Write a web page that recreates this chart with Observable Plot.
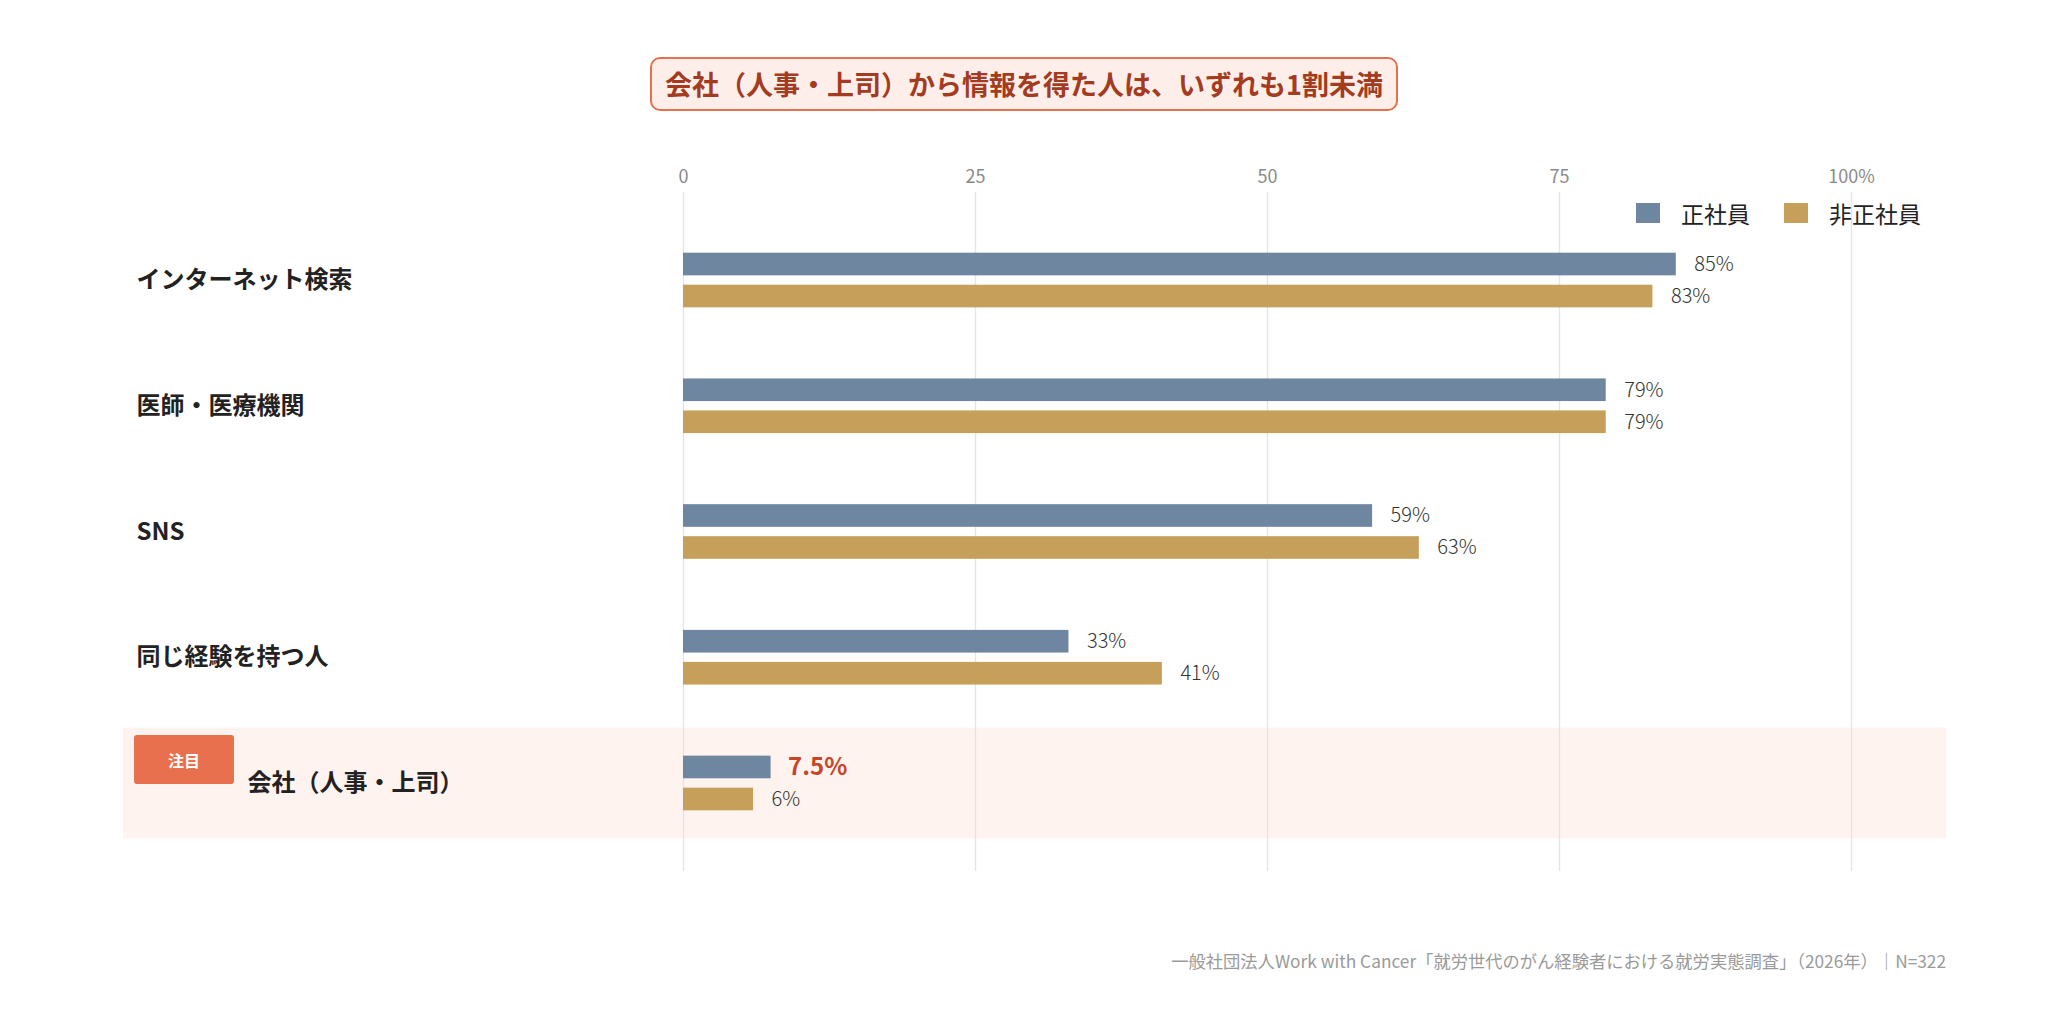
<!DOCTYPE html>
<html lang="ja">
<head>
<meta charset="utf-8">
<script src="https://cdn.jsdelivr.net/npm/d3@7"></script>
<script src="https://cdn.jsdelivr.net/npm/@observablehq/plot@0.6"></script>
<style>
  html, body { margin: 0; padding: 0; background: #ffffff; }
  body { font-family: "Noto Sans CJK JP", "Noto Sans", sans-serif; }
  #wrap { position: relative; width: 2048px; height: 1015px; overflow: hidden; }
  #chart { position: absolute; left: 0; top: 0; }
  #title { position: absolute; left: 0; right: 0; top: 57px; display: flex; justify-content: center; }
  #title span { display: inline-block; box-sizing: border-box; height: 54px; line-height: 50px; padding: 0 13px;
    border: 2px solid #e6714f; border-radius: 10px; background: #fdeeea; color: #a33b20;
    font-weight: 700; font-size: 27px; white-space: nowrap; }
  #legend { position: absolute; left: 1636px; top: 196px; display: flex; align-items: center; font-size: 23px; color: #222; }
  #legend .item { display: flex; align-items: center; margin-right: 34px; }
  #legend .sw { width: 24px; height: 20px; margin-right: 21px; }
  #badge { position: absolute; left: 134px; top: 735px; width: 100px; height: 49px; background: #e8704f; border-radius: 3px;
    color: #fff; font-weight: 700; font-size: 16px; display: flex; align-items: center; justify-content: center; }
  #footer { position: absolute; right: 102px; top: 948px; font-size: 17.3px; color: #9a9a9a; white-space: nowrap; }
</style>
</head>
<body>
<div id="wrap">
  <div id="chart"></div>
  <div id="title"></div>
  <div id="legend"></div>
  <div id="badge"></div>
  <div id="footer"></div>
</div>
<script>
// ---- data ----
const categories = ["インターネット検索", "医師・医療機関", "SNS", "同じ経験を持つ人", "会社（人事・上司）"];
const seriesNames = ["正社員", "非正社員"];
const seishain = [85, 79, 59, 33, 7.5];
const hiseishain = [83, 79, 63, 41, 6];
const xTicks = [0, 25, 50, 75, 100];
const xTickLabels = ["0", "25", "50", "75", "100%"];
const highlightCategory = "会社（人事・上司）";
const badgeText = "注目";
const titleText = "会社（人事・上司）から情報を得た人は、いずれも1割未満";
const footerText = "一般社団法人Work with Cancer「就労世代のがん経験者における就労実態調査」（2026年）｜N=322";
const seriesColors = ["#6f86a1", "#c6a05b"];

// ---- build rows ----
const rowsA = categories.map((c, i) => ({category: c, series: seriesNames[0], value: seishain[i]}));
const rowsB = categories.map((c, i) => ({category: c, series: seriesNames[1], value: hiseishain[i]}));
const xDomain = [xTicks[0], xTicks[xTicks.length - 1]];
const ticks = xTicks.map((t, i) => ({t, label: xTickLabels[i]}));
const FONT = "'Noto Sans CJK JP', 'Noto Sans', sans-serif";
const fmt = v => v + "%";
const isHL = d => d.category === highlightCategory;

const chart = Plot.plot({
  width: 2048,
  height: 1015,
  marginLeft: 683,
  marginRight: 197,
  marginTop: 192,
  marginBottom: 144,
  style: {background: "transparent", fontFamily: FONT, overflow: "visible"},
  x: {domain: xDomain, axis: null},
  y: {type: "band", domain: categories, paddingInner: 0.12, paddingOuter: 0.26, round: false, axis: null},
  marks: [
    // highlight band
    Plot.barX([highlightCategory], {y: d => d, x1: () => xDomain[0], x2: () => xDomain[1],
      insetLeft: -560, insetRight: -95, fill: "#fef3ef"}),
    // grid
    Plot.ruleX(xTicks, {stroke: "#e4e4e4", strokeWidth: 1.3}),
    // tick labels
    Plot.text(ticks, {x: "t", text: "label", frameAnchor: "top", dy: -22, fontSize: 18,
      fill: "#8a8a8a", fontFamily: FONT}),
    // bars
    Plot.barX(rowsA, {y: "category", x: "value", insetTop: 28, insetBottom: 60, fill: seriesColors[0]}),
    Plot.barX(rowsB, {y: "category", x: "value", insetTop: 60, insetBottom: 28, fill: seriesColors[1]}),
    // value labels
    Plot.text(rowsA.filter(d => !isHL(d)), {y: "category", x: "value", text: d => fmt(d.value), dx: 18, dy: -16,
      textAnchor: "start", fontSize: 20, fontWeight: 300, fill: "#333", fontFamily: FONT}),
    Plot.text(rowsA.filter(isHL), {y: "category", x: "value", text: d => fmt(d.value), dx: 17, dy: -16,
      textAnchor: "start", fontSize: 24, fontWeight: 700, fill: "#c8452a", fontFamily: FONT}),
    Plot.text(rowsB, {y: "category", x: "value", text: d => fmt(d.value), dx: 18, dy: 16,
      textAnchor: "start", fontSize: 20, fontWeight: 300, fill: "#333", fontFamily: FONT}),
    // category labels
    Plot.text(categories.filter(c => c !== highlightCategory), {y: d => d, text: d => d, frameAnchor: "left",
      textAnchor: "start", dx: -547, fontSize: 24, fontWeight: 700, fill: "#222", fontFamily: FONT}),
    Plot.text([highlightCategory], {y: d => d, text: d => d, frameAnchor: "left",
      textAnchor: "start", dx: -436, fontSize: 24, fontWeight: 700, fill: "#222", fontFamily: FONT})
  ]
});
document.getElementById("chart").appendChild(chart);

// ---- html furniture ----
const t = document.createElement("span");
t.textContent = titleText;
document.getElementById("title").appendChild(t);

const legend = document.getElementById("legend");
seriesNames.forEach((s, i) => {
  const item = document.createElement("div");
  item.className = "item";
  const sw = document.createElement("div");
  sw.className = "sw";
  sw.style.background = seriesColors[i];
  const lb = document.createElement("span");
  lb.textContent = s;
  item.appendChild(sw);
  item.appendChild(lb);
  legend.appendChild(item);
});
document.getElementById("badge").textContent = badgeText;
document.getElementById("footer").textContent = footerText;
</script>
</body>
</html>
